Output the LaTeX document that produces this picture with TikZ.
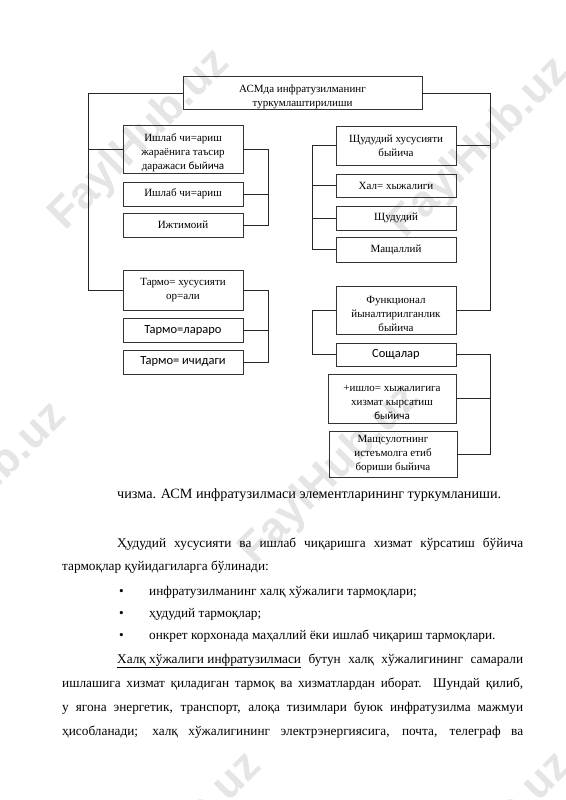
\documentclass[tikz,border=0pt]{standalone}
\usepackage{fontspec}
\setmainfont{Liberation Serif}
\newfontfamily\carlfont{Carlito}
\newfontfamily\wmfont{Liberation Sans}
\newcommand\mytopstrut{\rule{0pt}{15pt}}
\begin{document}
\begin{tikzpicture}[x=1pt,y=-1pt,
  box/.style={draw=black!80, line width=0.6pt, align=center, inner sep=1pt, font=\fontsize{11}{14}\selectfont},
  sbox/.style={box, font=\carlfont\fontsize{12.5}{14}\selectfont},
  conn/.style={draw=black!85, line width=0.6pt},
  body/.style={anchor=base west, inner sep=0pt, font=\fontsize{13.3}{16}\selectfont},
  wm/.style={text=black!10, font=\wmfont\bfseries\fontsize{44}{44}\selectfont, rotate=45}]
\useasboundingbox[fill=white] (0,0) rectangle (565,800);
\clip (0,0) rectangle (565,800);
% watermarks
\node[wm] (w1) at (140,140) {FaylHub.uz};
\node[wm] (w2) at (480,148) {FaylHub.uz};
\node[wm] (w3) at (330,475) {FaylHub.uz};
\node[wm] (w4) at (-23,493) {FaylHub.uz};
\node[wm] (w5) at (172,843) {FaylHub.uz};
\node[wm] (w6) at (482,843) {FaylHub.uz};
% boxes
\node[box, minimum width=239pt, minimum height=32pt] (top) at (302.5,93) {\mytopstrut АСМда инфратузилманинг\\туркумлаштирилиши};
\node[box, minimum width=120pt, minimum height=48pt] (l1) at (183,149) {\mytopstrut Ишлаб чи=ариш\\жараёнига таъсир\\даражаси {\carlfont быйича}};
\node[box, minimum width=120pt, minimum height=24pt] (l2) at (183,194) {Ишлаб чи=ариш};
\node[box, minimum width=120pt, minimum height=24pt] (l3) at (183,225) {Ижтимоий};
\node[box, minimum width=120pt, minimum height=40pt] (l4) at (183,290) {Тармо= хусусияти\\ор=али};
\node[sbox, minimum width=120pt, minimum height=24pt] (l5) at (183,330) {Тармо=лараро};
\node[sbox, minimum width=120pt, minimum height=24pt] (l6) at (183,362) {Тармо= ичидаги};
\node[box, minimum width=120pt, minimum height=39pt] (r1) at (396,145.5) {Щудудий хусусияти\\быйича};
\node[box, minimum width=120pt, minimum height=23pt] (r2) at (396,185.5) {Хал= хыжалиги};
\node[box, minimum width=120pt, minimum height=24pt] (r3) at (396,218) {Щудудий};
\node[box, minimum width=120pt, minimum height=25pt] (r4) at (396,249.5) {Мащаллий};
\node[box, minimum width=120pt, minimum height=48pt] (r5) at (396,310) {\mytopstrut Функционал\\йыналтирилганлик\\быйича};
\node[sbox, minimum width=120pt, minimum height=23pt] (r6) at (396,354.5) {Сощалар};
\node[box, minimum width=128pt, minimum height=49pt] (r7) at (392,398.5) {\mytopstrut +ишло= хыжалигига\\хизмат кырсатиш\\{\carlfont быйича}};
\node[box, minimum width=128pt, minimum height=46pt] (r8) at (393,454) {Мащсулотнинг\\истеъмолга етиб\\бориши быйича};
% connector bus coordinates
\coordinate (lx) at (88,0);
\coordinate (lbx) at (268,0);
\coordinate (rbx) at (312,0);
\coordinate (rx) at (490,0);
\draw[conn] (top.west) -| (lx |- l4.west) -- (l4.west);
\draw[conn] (l1.west) -- (lx |- l1.west);
\draw[conn] (l1.east) -| (lbx |- l3.east) -- (l3.east);
\draw[conn] (l2.east) -- (lbx |- l2.east);
\draw[conn] (l4.east) -| (lbx |- l6.east) -- (l6.east);
\draw[conn] (l5.east) -- (lbx |- l5.east);
\draw[conn] (top.east) -| (rx |- r5.east) -- (r5.east);
\draw[conn] (r1.east) -- (rx |- r1.east);
\draw[conn] (r1.west) -| (rbx |- r4.west) -- (r4.west);
\draw[conn] (r2.west) -- (rbx |- r2.west);
\draw[conn] (r3.west) -- (rbx |- r3.west);
\draw[conn] (r5.west) -| (rbx |- r6.west) -- (r6.west);
\draw[conn] (r6.east) -| (rx |- r8.east) -- (r8.east);
\draw[conn] (r7.east) -- (rx |- r7.east);
% text
\node[body, font=\fontsize{14.2}{16}\selectfont] (cap) at (117,498) {чизма. АСМ инфратузилмаси элементларининг туркумланиши.};
\node[body] (p1) at (117,547) {\makebox[406pt][s]{Ҳудудий хусусияти ва ишлаб чиқаришга хизмат кўрсатиш бўйича}};
\node[body] (p2) at (62,570) {тармоқлар қуйидагиларга бўлинади:};
\node[body] (bm1) at (119,595) {•};
\node[body] (bm2) at (119,617) {•};
\node[body] (bm3) at (119,639) {•};
\node[body] (b1) at (149,595) {инфратузилманинг халқ хўжалиги тармоқлари;};
\node[body] (b2) at (149,617) {ҳудудий тармоқлар;};
\node[body] (b3) at (149,639) {онкрет корхонада маҳаллий ёки ишлаб чиқариш тармоқлари.};
\node[body] (p3) at (117,663) {\makebox[406pt][s]{\underline{Халқ хўжалиги инфратузилмаси} бутун халқ хўжалигининг самарали}};
\node[body] (p4) at (62,687) {\makebox[461pt][s]{ишлашига хизмат қиладиган тармоқ ва хизматлардан иборат. Шундай қилиб,}};
\node[body] (p5) at (62,711) {\makebox[461pt][s]{у ягона энергетик, транспорт, алоқа тизимлари буюк инфратузилма мажмуи}};
\node[body] (p6) at (62,735) {\makebox[461pt][s]{ҳисобланади; халқ хўжалигининг электрэнергиясига, почта, телеграф ва}};
\end{tikzpicture}
\end{document}
